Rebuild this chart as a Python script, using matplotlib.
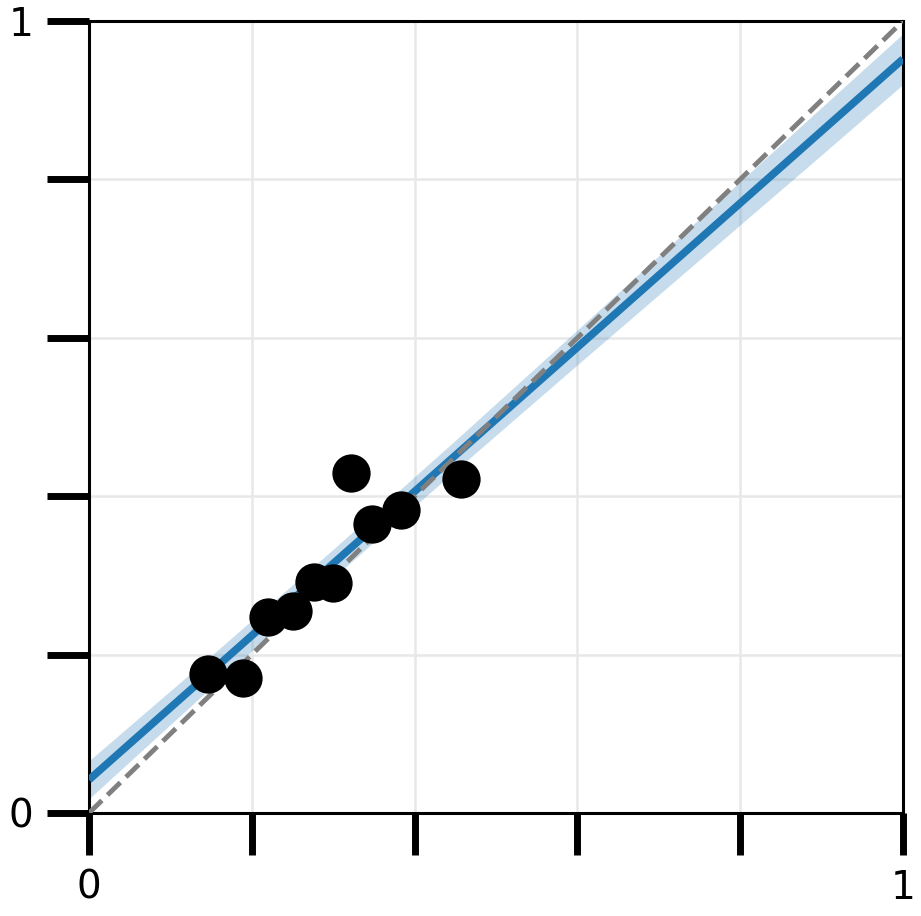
import matplotlib
matplotlib.use("Agg")
import matplotlib.pyplot as plt
import numpy as np

# --- data ---
pred = [0.146, 0.189, 0.220, 0.250, 0.276, 0.300, 0.322, 0.348, 0.383, 0.457]
obs = [0.176, 0.171, 0.247, 0.255, 0.292, 0.290, 0.429, 0.365, 0.382, 0.422]

fit_x = [0.0, 1.0]
fit_y = [0.042, 0.952]

band_x = [0.0, 0.15, 0.3, 0.45, 0.6, 0.75, 0.9, 1.0]
band_hw = [0.024, 0.020, 0.018, 0.019, 0.022, 0.026, 0.030, 0.032]

ticks = [0.0, 0.2, 0.4, 0.6, 0.8, 1.0]
tick_labels = ["0", "", "", "", "", "1"]

fig = plt.figure(figsize=(9.21, 9.16), dpi=100)
ax = fig.add_axes([89 / 921, 103 / 916, 814 / 921, 792 / 916])

c_fit = "#1f77b4"

# regression band + line
bx = np.array(band_x)
by = np.interp(bx, fit_x, fit_y)
hw = np.array(band_hw)
ax.fill_between(bx, by - hw, by + hw, color=c_fit, alpha=0.25, linewidth=0, zorder=2)
ax.plot(fit_x, fit_y, color=c_fit, linewidth=5.5, zorder=3, solid_capstyle="butt")

# identity line
ax.plot([0, 1], [0, 1], color="gray", linestyle="--", linewidth=3.5, zorder=4)

# points
ax.scatter(pred, obs, s=760, color="black", zorder=5, linewidths=0)

ax.set_xlim(0, 1)
ax.set_ylim(0, 1)
ax.set_xticks(ticks)
ax.set_yticks(ticks)
ax.set_xticklabels(tick_labels)
ax.set_yticklabels(tick_labels)
ax.tick_params(length=30, width=5, labelsize=28, pad=10, direction="out")
ax.grid(True, color="#e8e8e8", linewidth=1.8, zorder=0)
ax.set_axisbelow(True)
for sp in ax.spines.values():
    sp.set_linewidth(2.2)

fig.savefig("out.png", dpi=100)
